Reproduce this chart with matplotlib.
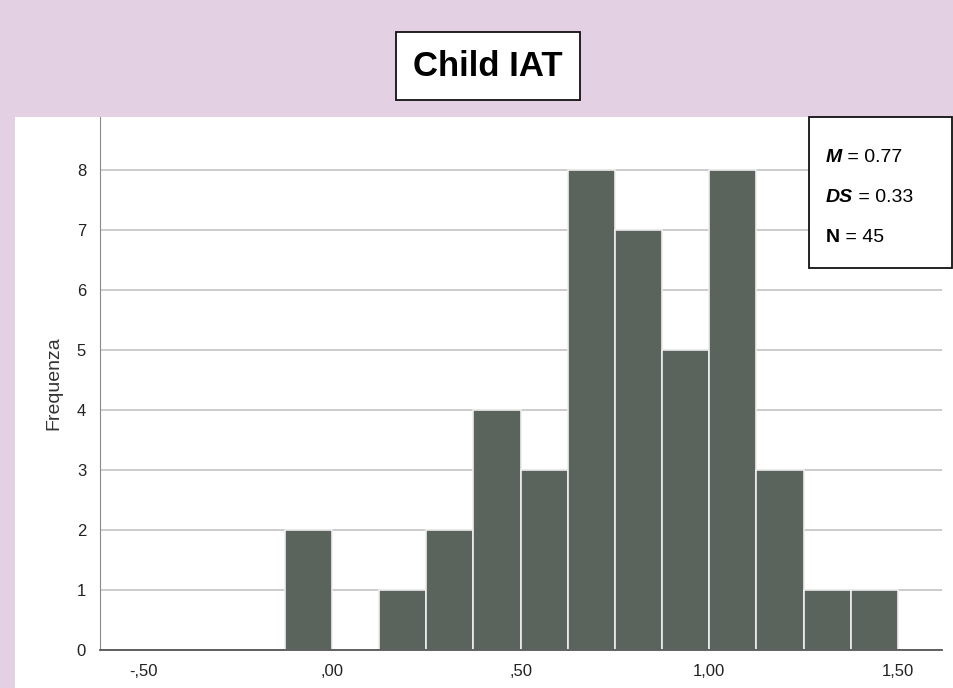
import matplotlib.pyplot as plt
import numpy as np
from matplotlib.patches import Rectangle
from matplotlib.text import Annotation

# dati istogramma (bin da 0.125)
bin_edges = [-0.125, 0.0, 0.125, 0.25, 0.375, 0.5, 0.625, 0.75, 0.875, 1.0, 1.125, 1.25, 1.375, 1.5]
counts = [2, 0, 1, 2, 4, 3, 8, 7, 5, 8, 3, 1, 1]
x_ticks = [-0.5, 0.0, 0.5, 1.0, 1.5]
x_labels = ["-,50", ",00", ",50", "1,00", "1,50"]
y_ticks = [0, 1, 2, 3, 4, 5, 6, 7, 8]
stats = [("M", " = 0.77", "italic"), ("DS", " = 0.33", "italic"), ("N", " = 45", "normal")]

BG = "#e3d1e3"
BAR = "#5a645d"

plt.rcParams["font.family"] = ["Liberation Sans", "DejaVu Sans"]

fig = plt.figure(figsize=(9.54, 6.88), dpi=100)
fig.patch.set_facecolor(BG)

W, H = 954, 688
# pannello bianco
fig.patches.append(Rectangle((15 / W, 0), 1 - 15 / W, (688 - 117) / H,
                             transform=fig.transFigure, facecolor="white",
                             edgecolor="none", zorder=-1))

ax = fig.add_axes([100 / W, (688 - 650) / H, (942 - 100) / W, (650 - 117) / H])
ax.set_zorder(1)
ax.set_facecolor("white")

edges = np.array(bin_edges)
ax.bar(edges[:-1], counts, width=np.diff(edges), align="edge",
       color=BAR, edgecolor="#eeeeee", linewidth=1.2, zorder=3)

ax.set_xlim(-0.615, 1.617)
ax.set_ylim(0, 8.88)
ax.set_xticks(x_ticks)
ax.set_xticklabels(x_labels)
ax.set_yticks(y_ticks)
ax.tick_params(length=0, labelsize=12, colors="#222222")
ax.tick_params(axis="x", pad=10)
ax.tick_params(axis="y", pad=10)
ax.yaxis.grid(True, color="#c8c8c8", linewidth=1.3, zorder=1)
ax.set_axisbelow(True)

for s in ["top", "right"]:
    ax.spines[s].set_visible(False)
ax.spines["left"].set_color("#8a8a8a")
ax.spines["bottom"].set_color("#555555")
ax.spines["bottom"].set_linewidth(1.3)
ax.spines["bottom"].set_zorder(4)

ax.set_ylabel("Frequenza", fontsize=14, color="#333333", labelpad=10)

# riquadro statistiche
fig.patches.append(Rectangle((809 / W, 1 - 268 / H), (952 - 809) / W, (268 - 117) / H,
                             transform=fig.transFigure, facecolor="white",
                             edgecolor="#111111", linewidth=1.3, zorder=5))
for i, (lab, val, st) in enumerate(stats):
    y = 1 - (158 + i * 39.5) / H
    t = fig.text(826 / W, y, lab, fontsize=14, fontweight="bold", fontstyle=st,
                 va="center", ha="left", zorder=6)
    a = Annotation(val, xy=(1, 0.5), xycoords=t, va="center", ha="left",
                   fontsize=14, zorder=6, annotation_clip=False)
    fig.add_artist(a)

# titolo
fig.text(488 / W, 1 - 66 / H, "Child IAT", fontsize=25, fontweight="bold",
         ha="center", va="center", zorder=6,
         bbox=dict(boxstyle="square,pad=0.5", facecolor="white",
                   edgecolor="#111111", linewidth=1.3))

fig.savefig("out.png", dpi=100, facecolor=BG)
